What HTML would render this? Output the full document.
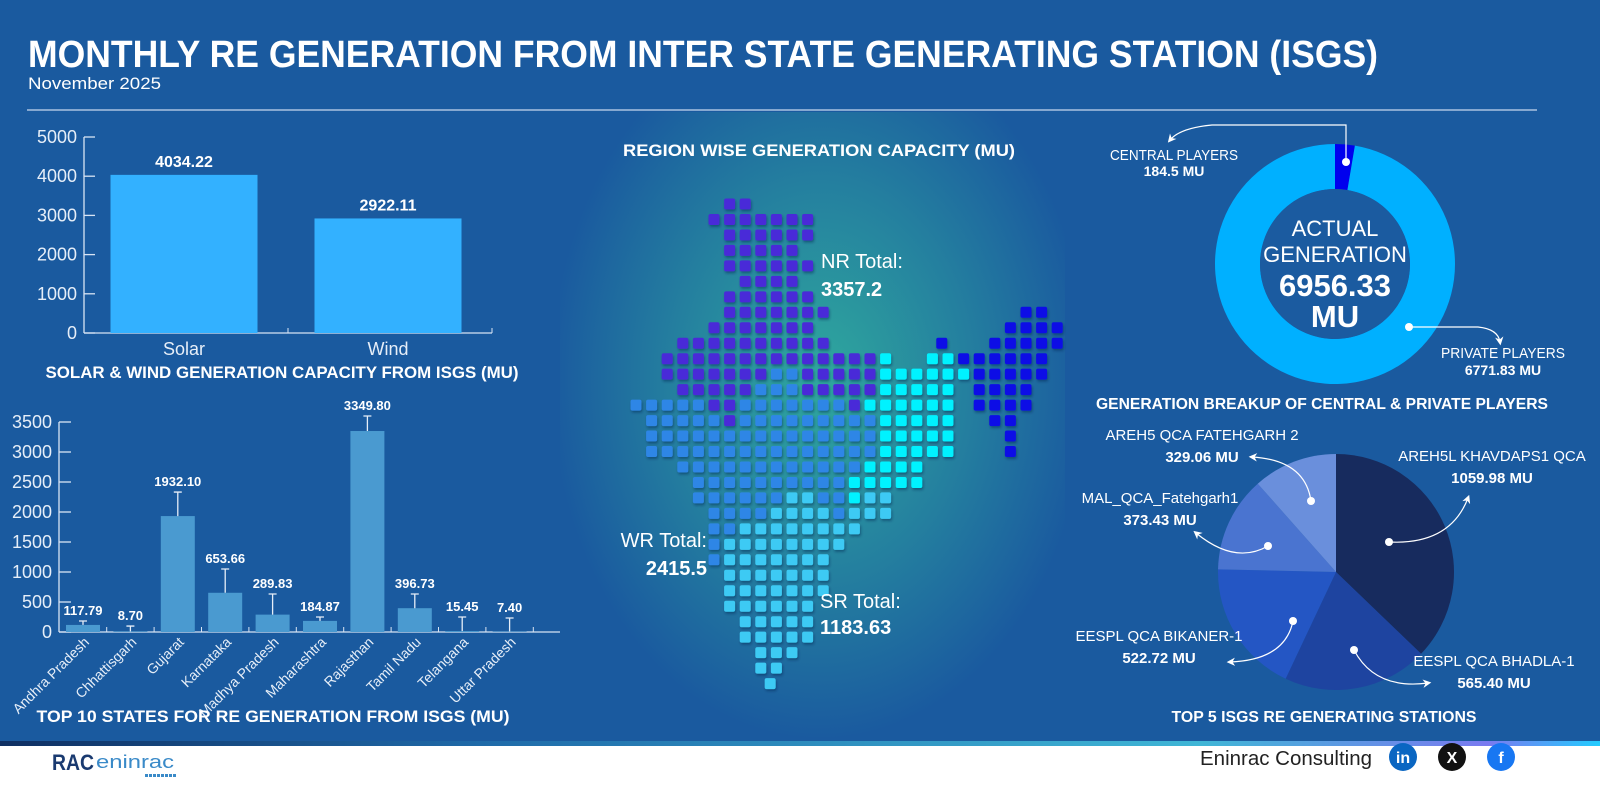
<!DOCTYPE html>
<html><head><meta charset="utf-8"><style>
html,body{margin:0;padding:0;width:1600px;height:800px;overflow:hidden;background:#1a5a9f}
svg{display:block;font-family:"Liberation Sans",sans-serif}
</style></head><body>
<svg id="root" width="1600" height="800" viewBox="0 0 1600 800">
<defs>
<radialGradient id="mid" cx="820" cy="380" r="360" gradientUnits="userSpaceOnUse" gradientTransform="translate(820 380) scale(0.75 1) translate(-820 -380)">
<stop offset="0" stop-color="#2fa89e"/><stop offset="0.55" stop-color="#247f9f"/><stop offset="1" stop-color="#1a5a9f"/></radialGradient>
<linearGradient id="strip" x1="0" x2="1"><stop offset="0" stop-color="#0f2f62"/><stop offset="0.3" stop-color="#1f6aa8"/><stop offset="0.75" stop-color="#3fb6d6"/><stop offset="0.93" stop-color="#7a7af0"/><stop offset="1" stop-color="#22ccff"/></linearGradient>
<filter id="sh" x="-50%" y="-50%" width="200%" height="200%"><feDropShadow dx="1" dy="2" stdDeviation="1.2" flood-color="#0a2050" flood-opacity="0.45"/></filter>
<marker id="arr" viewBox="0 0 10 10" refX="6" refY="5" markerWidth="7" markerHeight="7" orient="auto-start-reverse"><path d="M0,0 L10,5 L0,10 L3,5 z" fill="#fff"/></marker>
</defs>
<rect x="0" y="0" width="1600" height="800" fill="#1a5a9f"/>
<rect x="560" y="112" width="505" height="630" fill="url(#mid)"/>
<g id="g"></g>
</svg>
<script>
// ---------- data ----------
const swCategories = ["Solar", "Wind"];
const swValues = [4034.22, 2922.11];
const swLabels = ["4034.22", "2922.11"];
const swTicks = [0, 1000, 2000, 3000, 4000, 5000];

const stCategories = ["Andhra Pradesh","Chhattisgarh","Gujarat","Karnataka","Madhya Pradesh","Maharashtra","Rajasthan","Tamil Nadu","Telangana","Uttar Pradesh"];
const stValues = [117.79, 8.70, 1932.10, 653.66, 289.83, 184.87, 3349.80, 396.73, 15.45, 7.40];
const stLabels = ["117.79","8.70","1932.10","653.66","289.83","184.87","3349.80","396.73","15.45","7.40"];
const stErrors = [65, 90, 400, 396, 343, 65, 250, 236, 235, 226];
const stTicks = [0, 500, 1000, 1500, 2000, 2500, 3000, 3500];

const donutNames = ["Central Players", "Private Players"];
const donutValues = [184.5, 6771.83];

const pieNames = ["AREH5L KHAVDAPS1 QCA","EESPL QCA BHADLA-1","EESPL QCA BIKANER-1","MAL_QCA_Fatehgarh1","AREH5 QCA FATEHGARH 2"];
const pieValues = [1059.98, 565.40, 522.72, 373.43, 329.06];
const pieLabels = ["1059.98 MU","565.40 MU","522.72 MU","373.43 MU","329.06 MU"];

const regionNames = ["NR Total:", "WR Total:", "SR Total:"];
const regionValues = ["3357.2", "2415.5", "1183.63"];

// map grid: [row, colStart, colEnd, region]
const mapSegs = [
[0,6,7,"N"],[1,5,11,"N"],[2,6,11,"N"],[3,6,10,"N"],[4,6,11,"N"],[5,7,10,"N"],[6,6,11,"N"],
[7,6,12,"N"],[7,25,26,"X"],[8,5,11,"N"],[8,24,27,"X"],[9,3,12,"N"],[9,19.6,19.6,"X"],[9,23,27,"X"],
[10,2,15,"N"],[10,16,16,"E"],[10,19,20,"E"],[10,21,26,"X"],
[11,2,8,"N"],[11,9,10,"W"],[11,11,15,"N"],[11,16,21,"E"],[11,22,26,"X"],
[12,3,7,"N"],[12,8,10,"W"],[12,11,15,"N"],[12,16,20,"E"],[12,22,25,"X"],
[13,0,0,"W"],[13,1,4,"W"],[13,5,6,"N"],[13,7,13,"W"],[13,14,14,"N"],[13,15,20,"E"],[13,22,25,"X"],
[14,1,5,"W"],[14,6,6,"N"],[14,7,15,"W"],[14,16,20,"E"],[14,23,24,"X"],
[15,1,15,"W"],[15,16,20,"E"],[15,24,24,"X"],
[16,1,15,"W"],[16,16,20,"E"],[16,24,24,"X"],
[17,3,14,"W"],[17,15,18,"E"],
[18,4,13,"W"],[18,14,18,"E"],
[19,4,9,"W"],[19,10,11,"S"],[19,12,13,"W"],[19,14,14,"E"],[19,15,16,"S"],
[20,5,8,"W"],[20,9,12,"S"],[20,13,13,"W"],[20,14,16,"S"],
[21,5,6,"W"],[21,7,14,"S"],[22,5,5,"W"],[22,6,13,"S"],[23,5,5,"W"],[23,6,12,"S"],
[24,6,12,"S"],[25,6,12,"S"],[26,6,11,"S"],[27,7,11,"S"],[28,7,11,"S"],[29,8,10,"S"],[30,8,9,"S"],[31,8.6,8.6,"S"]
];

// ---------- helpers ----------
const NS = "http://www.w3.org/2000/svg";
const G = document.getElementById("g");
function el(tag, attrs, parent) {
  const e = document.createElementNS(NS, tag);
  for (const k in attrs) e.setAttribute(k, attrs[k]);
  (parent || G).appendChild(e);
  return e;
}
function txt(s, x, y, size, opts, parent) {
  opts = opts || {};
  const t = el("text", {x: x, y: y, "font-size": size, fill: opts.fill || "#fff",
    "font-weight": opts.bold ? "bold" : "normal", "text-anchor": opts.anchor || "start"}, parent);
  if (opts.len) { t.setAttribute("textLength", opts.len); t.setAttribute("lengthAdjust", "spacingAndGlyphs"); }
  if (opts.rot) t.setAttribute("transform", "rotate(" + opts.rot + " " + x + " " + y + ")");
  t.textContent = s;
  return t;
}

// ---------- header ----------
let t = txt("MONTHLY RE GENERATION FROM INTER STATE GENERATING STATION (ISGS)", 28, 67, 38, {bold: true, len: 1350});


t = txt("November 2025", 28, 89, 17, {len: 133});


let ln = el("line", {x1: 27, y1: 110, x2: 1537, y2: 110, stroke: "#c8d8ee", "stroke-width": 1.2});



// ---------- chart 1: solar & wind ----------
(function () {
  const x0 = 84, x1 = 492, y0 = 333, yTop = 137, vMax = 5000;
  const ys = v => y0 - (v / vMax) * (y0 - yTop);
  const step = (x1 - x0) / swCategories.length;
  const bw = 147;
  const axis = el("g", {});
  
  
  el("line", {x1: x0, y1: y0, x2: x0, y2: yTop, stroke: "#d8e4f4", "stroke-width": 1.3}, axis);
  el("line", {x1: x0, y1: y0, x2: x1, y2: y0, stroke: "#d8e4f4", "stroke-width": 1.3}, axis);
  swTicks.forEach(v => {
    el("line", {x1: x0, y1: ys(v), x2: x0 + 11, y2: ys(v), stroke: "#d8e4f4", "stroke-width": 1.3}, axis);
    const tl = txt(String(v), 77, ys(v) + 6, 18, {anchor: "end", fill: "#e6eef8"}, axis);
    
    
  });
  for (let i = 1; i <= swCategories.length; i++) el("line", {x1: x0 + step * i, y1: y0, x2: x0 + step * i, y2: y0 - 5, stroke: "#d8e4f4"}, axis);
  swCategories.forEach((c, i) => {
    const cx = x0 + step * (i + 0.5) - 2;
    const b = el("rect", {x: cx - bw / 2, y: ys(swValues[i]), width: bw, height: y0 - ys(swValues[i]), fill: "#33b1ff"});
    
    
    const vl = txt(swLabels[i], cx, ys(swValues[i]) - 8, 16, {bold: true, anchor: "middle"});
    
    
    const cl = txt(c, cx, 355, 18, {anchor: "middle", fill: "#e6eef8"});
    
    
  });
  const tt = txt("SOLAR & WIND GENERATION CAPACITY FROM ISGS (MU)", 282, 378, 17, {bold: true, anchor: "middle", len: 473});
  
  
})();

// ---------- chart 2: top 10 states ----------
(function () {
  const x0 = 59, y0 = 632, perUnit = 0.06, pitch = 47.4, first = 83, bw = 34;
  const ys = v => y0 - v * perUnit;
  const axis = el("g", {});
  
  
  el("line", {x1: x0, y1: y0, x2: x0, y2: ys(3500), stroke: "#d8e4f4", "stroke-width": 1.3}, axis);
  el("line", {x1: x0, y1: y0, x2: 560, y2: y0, stroke: "#d8e4f4", "stroke-width": 1.3}, axis);
  stTicks.forEach(v => {
    el("line", {x1: x0, y1: ys(v), x2: x0 + 12, y2: ys(v), stroke: "#d8e4f4", "stroke-width": 1.3}, axis);
    const tl = txt(String(v), 52, ys(v) + 6, 18, {anchor: "end", fill: "#e6eef8"}, axis);
    
    
  });
  stCategories.forEach((c, i) => {
    const cx = first + pitch * i;
    el("line", {x1: cx + pitch / 2, y1: y0, x2: cx + pitch / 2, y2: y0 - 5, stroke: "#d8e4f4"}, axis);
    const b = el("rect", {x: cx - bw / 2, y: ys(stValues[i]), width: bw, height: stValues[i] * perUnit, fill: "#4a9ad0"});
    
    
    const et = ys(stValues[i] + stErrors[i]);
    const eb = el("path", {d: "M" + cx + "," + ys(stValues[i]) + " V" + et + " M" + (cx - 4) + "," + et + " H" + (cx + 4), stroke: "#e6eef8", "stroke-width": 1.3, fill: "none"});
    
    
    const vl = txt(stLabels[i], cx, et - 6, 13, {bold: true, anchor: "middle"});
    
    
    const cl = txt(c, cx + 7, 643, 14, {anchor: "end", rot: -45, fill: "#e6eef8"});
    
    
  });
  const tt = txt("TOP 10 STATES FOR RE GENERATION FROM ISGS (MU)", 273, 722, 17, {bold: true, anchor: "middle", len: 473});
  
  
})();

// ---------- map ----------
(function () {
  const colors = {N: "#4a2ad8", W: "#2e86e6", S: "#3ccaf4", E: "#00f2ff", X: "#0a10e6"};
  const mg = el("g", {filter: "url(#sh)"});
  
  
  mapSegs.forEach(s => {
    for (let k = s[1]; k <= s[2] + 0.001; k++) {
      const cx = 636 + 15.6 * k, cy = 204 + 15.47 * s[0];
      const r = el("rect", {x: cx - 5.5, y: cy - 5.5, width: 11, height: 11, rx: 2, fill: colors[s[3]]}, mg);
      
      
    }
  });
  const tt = txt("REGION WISE GENERATION CAPACITY (MU)", 819, 156, 17, {bold: true, anchor: "middle", len: 392});
  
  
  const pos = [[821, 268, 296, "start"], [707, 547, 575, "end"], [820, 608, 634, "start"]];
  regionNames.forEach((n, i) => {
    const p = pos[i];
    const a = txt(n, p[0], p[1], 20, {anchor: p[3]});
    
    
    const b = txt(regionValues[i], p[0], p[2], 20, {bold: true, anchor: p[3]});
    
    
  });
})();

// ---------- donut ----------
(function () {
  const cx = 1335, cy = 264, R = 120, r = 75;
  const total = donutValues.reduce((a, b) => a + b, 0);
  const cols = ["#0000ee", "#00b0ff"];
  let a0 = 0;
  donutValues.forEach((v, i) => {
    const a1 = a0 + v / total * 2 * Math.PI;
    const p = (a, rad) => [cx + rad * Math.sin(a), cy - rad * Math.cos(a)];
    const [x1, y1] = p(a0, R), [x2, y2] = p(a1, R), [x3, y3] = p(a1, r), [x4, y4] = p(a0, r);
    const large = (a1 - a0) > Math.PI ? 1 : 0;
    const s = el("path", {d: `M${x1},${y1} A${R},${R} 0 ${large} 1 ${x2},${y2} L${x3},${y3} A${r},${r} 0 ${large} 0 ${x4},${y4} Z`, fill: cols[i]});
    
    
    a0 = a1;
  });
  const inner = el("circle", {cx: cx, cy: cy, r: r, fill: "#1b5ba0"});
  
  
  [["ACTUAL", 236, 22, false], ["GENERATION", 262, 22, false], ["6956.33", 296, 31, true], ["MU", 327, 31, true]].forEach(l => {
    const tt = txt(l[0], cx, l[1], l[2], {anchor: "middle", bold: l[3]});
    
    
  });
  let d = el("circle", {cx: 1346, cy: 162, r: 4, fill: "#fff"});
  
  
  let c = el("path", {d: "M1346,162 V125 H1212 Q1180,128 1170,140", stroke: "#fff", fill: "none", "stroke-width": 1.2, "marker-end": "url(#arr)"});
  
  
  d = el("circle", {cx: 1409, cy: 327, r: 4, fill: "#fff"});
  
  
  c = el("path", {d: "M1409,327 H1478 Q1498,329 1500,342", stroke: "#fff", fill: "none", "stroke-width": 1.2, "marker-end": "url(#arr)"});
  
  
  let l = txt("CENTRAL PLAYERS", 1174, 160, 15, {anchor: "middle", len: 128});
  
  
  l = txt("184.5 MU", 1174, 176, 14, {anchor: "middle", bold: true});
  
  
  l = txt("PRIVATE PLAYERS", 1503, 358, 15, {anchor: "middle", len: 124});
  
  
  l = txt("6771.83 MU", 1503, 375, 14, {anchor: "middle", bold: true});
  
  
})();

// ---------- pie ----------
(function () {
  const cx = 1336, cy = 572, R = 118;
  const cols = ["#172b5e", "#1e44a0", "#2456c4", "#4a74d0", "#6a8fdc"];
  const total = pieValues.reduce((a, b) => a + b, 0);
  let a0 = 0;
  pieValues.forEach((v, i) => {
    const a1 = a0 + v / total * 2 * Math.PI;
    const x1 = cx + R * Math.sin(a0), y1 = cy - R * Math.cos(a0), x2 = cx + R * Math.sin(a1), y2 = cy - R * Math.cos(a1);
    const s = el("path", {d: `M${cx},${cy} L${x1},${y1} A${R},${R} 0 ${(a1 - a0) > Math.PI ? 1 : 0} 1 ${x2},${y2} Z`, fill: cols[i]});
    
    
    a0 = a1;
  });
  const lab = [[1492, 461], [1494, 666], [1159, 641], [1160, 503], [1202, 440]];
  const callouts = [
    "M1389,542 Q1450,545 1468,498",
    "M1354,650 Q1375,690 1428,683",
    "M1293,621 Q1285,660 1230,662",
    "M1268,546 Q1235,565 1196,533",
    "M1311,501 Q1305,460 1252,457"
  ];
  const dots = [[1389, 542], [1354, 650], [1293, 621], [1268, 546], [1311, 501]];
  pieNames.forEach((n, i) => {
    const c = el("path", {d: callouts[i], stroke: "#fff", fill: "none", "stroke-width": 1.2, "marker-end": "url(#arr)"});
    
    
    const d = el("circle", {cx: dots[i][0], cy: dots[i][1], r: 4, fill: "#fff"});
    
    
    const a = txt(n, lab[i][0], lab[i][1], 15, {anchor: "middle"});
    
    
    const b = txt(pieLabels[i], lab[i][0], lab[i][1] + 22, 15, {anchor: "middle", bold: true});
    
    
  });
  let tt = txt("GENERATION BREAKUP OF CENTRAL & PRIVATE PLAYERS", 1322, 409, 16, {bold: true, anchor: "middle", len: 452});
  
  
  tt = txt("TOP 5 ISGS RE GENERATING STATIONS", 1324, 722, 16, {bold: true, anchor: "middle", len: 305});
  
  
})();

// ---------- footer ----------
(function () {
  const s = el("rect", {x: 0, y: 741, width: 1600, height: 5, fill: "url(#strip)"});
  
  
  const f = el("rect", {x: 0, y: 746, width: 1600, height: 54, fill: "#ffffff"});
  
  
  const lg = el("g", {});
  
  
  txt("RAC", 52, 770, 22, {bold: true, fill: "#1a3a70", len: 42}, lg);
  txt("eninrac", 96, 768, 18, {fill: "#3a8ac8", len: 78}, lg);
  for (let i = 0; i < 8; i++) el("rect", {x: 145 + i * 4, y: 774, width: 3, height: 3, fill: "#3a8ac8"}, lg);
  const ec = txt("Eninrac Consulting", 1372, 765, 20, {anchor: "end", fill: "#222", len: 172});
  
  
  const icons = [[1403, "#0a66c2", "in", "linkedin-icon"], [1452, "#111", "X", "x-icon"], [1501, "#1877f2", "f", "facebook-icon"]];
  icons.forEach(ic => {
    const g2 = el("g", {});
    
    
    el("circle", {cx: ic[0], cy: 757, r: 14, fill: ic[1]}, g2);
    txt(ic[2], ic[0], 763, 16, {bold: true, anchor: "middle"}, g2);
  });
})();
</script>
</body></html>
